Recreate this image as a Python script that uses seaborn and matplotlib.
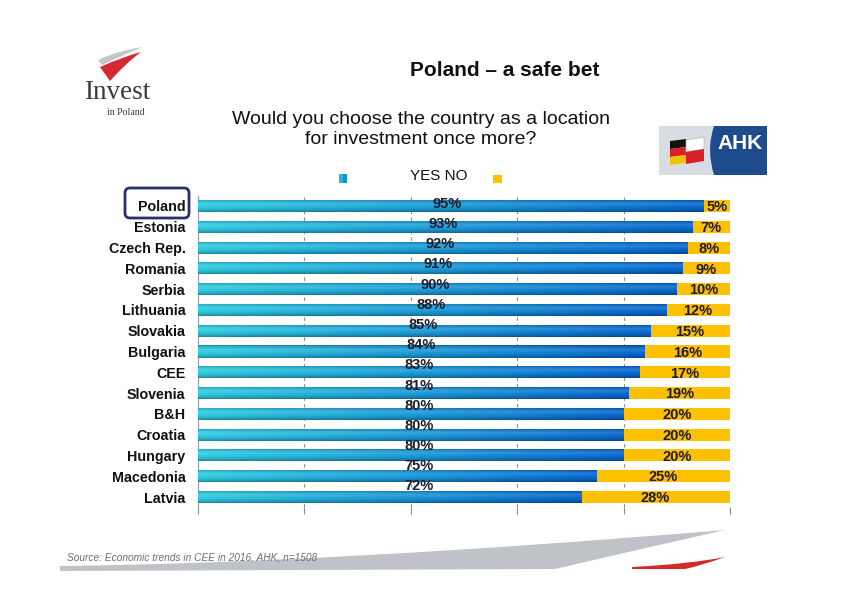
import numpy as np
import pandas as pd
import matplotlib
matplotlib.use("Agg")
import matplotlib.pyplot as plt
import seaborn as sns
from matplotlib.patches import Polygon, FancyBboxPatch, Rectangle, PathPatch
from matplotlib.path import Path
from matplotlib.colors import to_rgb

# ---------------- data ----------------
countries = ["Poland", "Estonia", "Czech Rep.", "Romania", "Serbia", "Lithuania",
             "Slovakia", "Bulgaria", "CEE", "Slovenia", "B&H", "Croatia",
             "Hungary", "Macedonia", "Latvia"]
yes_pct = [95, 93, 92, 91, 90, 88, 85, 84, 83, 81, 80, 80, 80, 75, 72]
no_pct = [5, 7, 8, 9, 10, 12, 15, 16, 17, 19, 20, 20, 20, 25, 28]
x_ticks = [0, 20, 40, 60, 80, 100]

title = "Poland – a safe bet"
subtitle_lines = ["Would you choose the country as a location", "for investment once more?"]
legend_text = "YES NO"
source_text = "Source: Economic trends in CEE in 2016, AHK, n=1508"

YES_COL = "#1590DC"
NO_COL = "#FFC000"

# ---------------- style ----------------
sns.set_theme(style="white")
plt.rcParams["font.family"] = ["Liberation Sans", "DejaVu Sans"]

W, H = 842, 595
fig = plt.figure(figsize=(W / 100, H / 100), dpi=100)
fig.patch.set_facecolor("white")

ax = fig.add_axes([198 / W, 1 - 507.4 / H, 532 / W, 311.8 / H])

df = pd.DataFrame({"country": countries, "yes": yes_pct, "no": no_pct})
df["total"] = df["yes"] + df["no"]

sns.barplot(data=df, x="total", y="country", orient="h", color=NO_COL,
            saturation=1, width=0.58, linewidth=0, ax=ax, zorder=2)
n_no = len(ax.patches)
sns.barplot(data=df, x="yes", y="country", orient="h", color=YES_COL,
            saturation=1, width=0.58, linewidth=0, ax=ax, zorder=3)
yes_patches = ax.patches[n_no:]

# gradient fill for YES bars
left_c = np.array(to_rgb("#2FCDE2"))
right_c = np.array(to_rgb("#0667CE"))
t = np.linspace(0, 1, 256)[None, :, None]
horiz = left_c * (1 - t) + right_c * t
v = np.linspace(0, 1, 24)[:, None, None]
shade = 0.70 + 0.30 * np.sin(np.pi * np.clip(v * 1.05, 0, 1)) ** 0.6
grad = horiz * shade
hl = np.exp(-((v - 0.35) / 0.18) ** 2) * 0.12
grad = np.clip(grad * (1 - hl) + hl, 0, 1)

for p in yes_patches:
    x0, y0 = p.get_x(), p.get_y()
    w, h = p.get_width(), p.get_height()
    im = ax.imshow(grad, extent=[x0, x0 + w, y0 + h, y0], origin="upper",
                   aspect="auto", zorder=3.5, interpolation="bilinear")
    im.set_clip_path(p)

ax.set_xlim(0, 100)
ax.set_ylim(len(countries) - 0.5, -0.5)
ax.set_xticks(x_ticks)
ax.xaxis.grid(True, linestyle=(0, (3, 3)), color="#8a8a8a", linewidth=0.8)
ax.yaxis.grid(False)
ax.set_axisbelow(True)
for s in ["top", "right", "bottom"]:
    ax.spines[s].set_visible(False)
ax.spines["left"].set_color("#9a9a9a")
ax.spines["left"].set_linewidth(0.8)
ax.tick_params(axis="x", bottom=True, length=5, width=0.8, color="#8a8a8a",
               labelbottom=False, direction="out")
ax.tick_params(axis="y", left=False, length=0, pad=9)
for lab in ax.get_yticklabels():
    lab.set_fontsize(10.3)
    lab.set_fontweight("bold")
    lab.set_color("#111111")
ax.set_xlabel("")
ax.set_ylabel("")

lab_font = dict(family=["Liberation Sans Narrow", "Liberation Sans", "DejaVu Sans"],
                fontweight="bold", fontsize=10.5, color="#1c1c2c")
for i, (yv, nv) in enumerate(zip(yes_pct, no_pct)):
    lx = 41.5 + 0.45 * max(yv - 83, 0)
    ly = i * 0.971 - 0.1
    ax.text(lx, ly, f"{yv}%", ha="center", va="center", zorder=6, **lab_font)
    ax.text(yv + nv / 2, i + 0.06, f"{nv}%", ha="center", va="center", zorder=6, **lab_font)

# ---------------- overlay decorations (pixel coords) ----------------
ov = fig.add_axes([0, 0, 1, 1], zorder=10)
ov.set_xlim(0, W)
ov.set_ylim(H, 0)
ov.axis("off")
ov.patch.set_visible(False)

ov.text(504.5, 70, title, ha="center", va="center", fontsize=15, fontweight="bold", color="#111111")
ov.text(420.5, 120, subtitle_lines[0], ha="center", va="center", fontsize=14, color="#111111")
ov.text(420.5, 140, subtitle_lines[1], ha="center", va="center", fontsize=14, color="#111111")

# legend
ov.text(438.5, 176.5, legend_text, ha="center", va="center", fontsize=11, color="#111111")
ov.add_patch(Rectangle((339, 174), 8, 8.5, facecolor="#1A8FD8", edgecolor="none"))
ov.add_patch(Rectangle((339, 174), 4, 8.5, facecolor="#2CC3E0", edgecolor="none", alpha=0.7))
ov.add_patch(Rectangle((493, 175), 9, 8, facecolor=NO_COL, edgecolor="none"))

# Poland highlight box
ov.add_patch(FancyBboxPatch((125, 188), 64, 30, boxstyle="round,pad=0,rounding_size=5",
                            facecolor="none", edgecolor="#2b2f6b", linewidth=2))

# source
ov.text(67, 558, source_text, ha="left", va="center", fontsize=7.3, style="italic", color="#6e6e6e")

# footer gray swoosh
verts = [(60, 566), (330, 563), (725, 530), (610, 556), (555, 569), (60, 571), (60, 566)]
codes = [Path.MOVETO, Path.CURVE3, Path.CURVE3, Path.CURVE3, Path.CURVE3, Path.LINETO, Path.CLOSEPOLY]
ov.add_patch(PathPatch(Path(verts, codes), facecolor="#BFC2C6", edgecolor="none"))
# footer red swoosh
verts = [(632, 567), (690, 564), (725, 557), (700, 566), (685, 569), (632, 569), (632, 567)]
ov.add_patch(PathPatch(Path(verts, codes), facecolor="#D42A2A", edgecolor="none"))

# Invest in Poland logo
verts = [(98, 60), (120, 50), (143, 47), (125, 54), (102, 65), (98, 60)]
codes2 = [Path.MOVETO, Path.CURVE3, Path.CURVE3, Path.CURVE3, Path.CURVE3, Path.CLOSEPOLY]
ov.add_patch(PathPatch(Path(verts, codes2), facecolor="#C4C6CA", edgecolor="none"))
verts = [(100, 67), (122, 57), (141, 52), (125, 64), (110, 81), (100, 67)]
ov.add_patch(PathPatch(Path(verts, codes2), facecolor="#D52A33", edgecolor="none"))
ov.text(84, 99, "Invest", ha="left", va="baseline", fontsize=19.5,
        family=["Liberation Serif", "DejaVu Serif"], color="#3a3a3a")
ov.text(107, 115, "in Poland", ha="left", va="baseline", fontsize=7,
        family=["Liberation Serif", "DejaVu Serif"], color="#3a3a3a")

# AHK logo
ov.add_patch(Rectangle((659, 126), 108, 49, facecolor="#D9DCE3", edgecolor="none"))
verts = [(714, 126), (706, 150), (714, 175), (767, 175), (767, 126), (714, 126)]
codes3 = [Path.MOVETO, Path.CURVE3, Path.CURVE3, Path.LINETO, Path.LINETO, Path.CLOSEPOLY]
ov.add_patch(PathPatch(Path(verts, codes3), facecolor="#1D4B8C", edgecolor="none"))
ov.text(740, 143.5, "AHK", ha="center", va="center", fontsize=15, fontweight="bold", color="white")
# German flag
for k, col in enumerate(["#111111", "#D8202A", "#F2C100"]):
    y0 = 139 + k * 8
    ov.add_patch(Polygon([(670, y0 + 2), (686, y0), (686, y0 + 8), (670, y0 + 10)],
                         closed=True, facecolor=col, edgecolor="none"))
# Polish flag
ov.add_patch(Polygon([(686, 140), (704, 137), (704, 149), (686, 152)], closed=True,
                     facecolor="white", edgecolor="#b0b0b0", linewidth=0.5))
ov.add_patch(Polygon([(686, 152), (704, 149), (704, 161), (686, 164)], closed=True,
                     facecolor="#D8202A", edgecolor="none"))

fig.savefig("out.png", dpi=100, facecolor="white")
